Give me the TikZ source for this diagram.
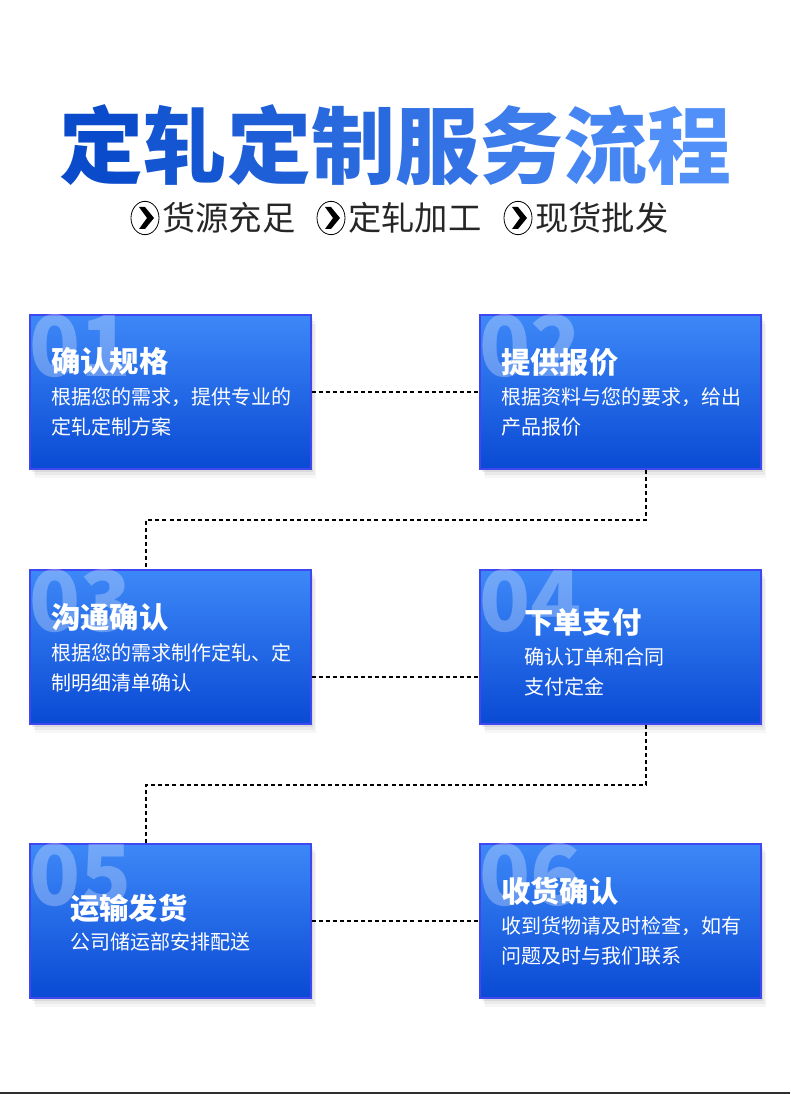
\documentclass[tikz,border=0pt]{standalone}
\usepackage{fontspec}
\setmainfont{Noto Sans CJK SC}
\newfontfamily\titlefont{Noto Sans CJK SC Black}
\usepackage{xcolor}
\usetikzlibrary{positioning,shadows,calc,shapes.geometric}

\definecolor{boxtop}{HTML}{3D88F8}
\definecolor{boxbot}{HTML}{0A4AD4}
\definecolor{boxline}{HTML}{3F48F0}
\definecolor{titleL}{HTML}{0A4BCB}
\definecolor{titleR}{HTML}{5090F8}
\definecolor{rulegray}{HTML}{2E2E2E}

\newcommand{\gradchar}[2]{\textcolor{titleR!#1!titleL}{#2}}

\begin{document}
\begin{tikzpicture}[x=0.75pt, y=-0.75pt,
  stepbox/.style={draw=boxline, line width=0.8pt, top color=boxtop, bottom color=boxbot, minimum width=210.75pt, minimum height=115.5pt, inner sep=0pt,
    drop shadow={shadow xshift=4pt, shadow yshift=-6.5pt, opacity=0.07},
    drop shadow={shadow xshift=3pt, shadow yshift=-4.5pt, opacity=0.1},
    drop shadow={shadow xshift=1.5pt, shadow yshift=-2.5pt, opacity=0.16}},
  stepnum/.style={anchor=base west, inner sep=0pt, text=white, text opacity=0.28, font=\fontsize{63}{63}\selectfont\bfseries},
  steptitle/.style={anchor=west, inner sep=0pt, text=white, font=\fontsize{22}{22}\selectfont\bfseries},
  stepbody/.style={anchor=west, inner sep=0pt, text=white, align=left, font=\fontsize{15}{22.5}\selectfont},
  link/.style={draw=black, line width=1.1pt, dash pattern=on 3pt off 2.3pt},
  badge/.style={draw=black, line width=0.6pt, ellipse, minimum width=21pt, minimum height=25pt, inner sep=0pt},
  subtxt/.style={anchor=west, inner sep=0pt, text=black!85, font=\fontsize{25}{25}\selectfont}
]
\useasboundingbox (0,0) rectangle (790,1094);

% title and key points
\node[inner sep=0pt, font=\fontsize{63}{63}\selectfont\titlefont] (title) at (395,145)
  {\gradchar{0}{定}\gradchar{14}{轧}\gradchar{28}{定}\gradchar{43}{制}\gradchar{57}{服}\gradchar{71}{务}\gradchar{86}{流}\gradchar{100}{程}};
\foreach \x/\txt/\n in {145/货源充足/a, 331/定轧加工/b, 518/现货批发/c} {
  \node[badge] (i\n) at (\x,218) {};
  \fill[black] ($(i\n)+(-6,-11)$) -- ($(i\n)+(0,-11)$) -- ($(i\n)+(9,0)$) -- ($(i\n)+(0,11)$) -- ($(i\n)+(-6,11)$) -- ($(i\n)+(2,0)$) -- cycle;
  \node[subtxt] (s\n) at (\x+17,218) {\txt};
}

% boxes
\node[stepbox] (b1) at (170.5,392) {};
\node[stepbox] (b2) at (620.5,392) {};
\node[stepbox] (b3) at (170.5,647) {};
\node[stepbox] (b4) at (620.5,647) {};
\node[stepbox] (b5) at (170.5,921) {};
\node[stepbox] (b6) at (620.5,921) {};

% faded step numbers
\foreach \b/\n in {b1/01, b2/02, b3/03, b4/04, b5/05, b6/06} {
  \begin{scope}
    \clip (\b.south west) rectangle (\b.north east);
    \node[stepnum] (n\b) at ($(\b.north west)+(0,62)$) {\n};
  \end{scope}
}

\node[steptitle] (t1) at (51,361) {确认规格};
\node[stepbody] (d1) at (51,412) {根据您的需求，提供专业的\\定轧定制方案};
\node[steptitle] (t2) at (501,362) {提供报价};
\node[stepbody] (d2) at (501,412) {根据资料与您的要求，给出\\产品报价};
\node[steptitle] (t3) at (51,617) {沟通确认};
\node[stepbody] (d3) at (51,668) {根据您的需求制作定轧、定\\制明细清单确认};
\node[steptitle] (t4) at (524,622) {下单支付};
\node[stepbody] (d4) at (524,672) {确认订单和合同\\支付定金};
\node[steptitle] (t5) at (70,908) {运输发货};
\node[stepbody] (d5) at (70,942) {公司储运部安排配送};
\node[steptitle] (t6) at (501,891) {收货确认};
\node[stepbody] (d6) at (501,941) {收到货物请及时检查，如有\\问题及时与我们联系};

% dashed links
\coordinate (k1) at (646,520);
\coordinate (k2) at (146,520);
\coordinate (k3) at (395,677);
\coordinate (k4) at (646,785);
\coordinate (k5) at (146,785);
\draw[link] (b1.east) -- (b2.west);
\draw[link] (b2.south -| k1) -- (k1) -- (k2) -- (b3.north -| k2);
\draw[link] (b3.east |- k3) -- (b4.west |- k3);
\draw[link] (b4.south -| k4) -- (k4) -- (k5) -- (b5.north -| k5);
\draw[link] (b5.east) -- (b6.west);

% bottom rule
\draw[rulegray, line width=1.6pt] (0,1093) -- (790,1093);
\end{tikzpicture}
\end{document}
